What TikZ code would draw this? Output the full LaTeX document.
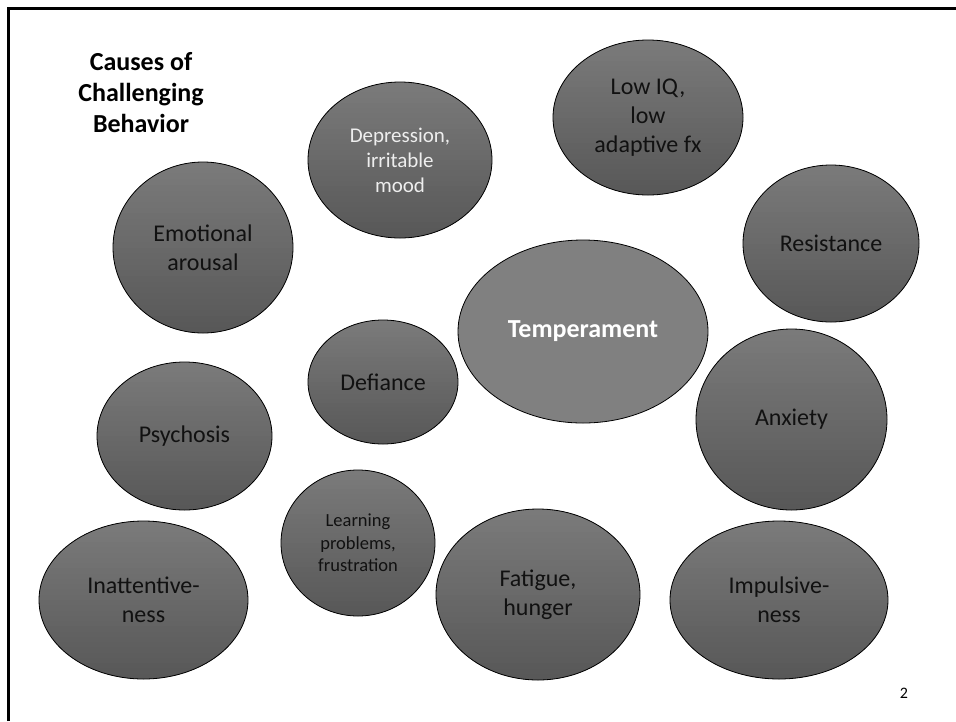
\documentclass[tikz,border=0pt]{standalone}
\usepackage{fontspec}
\setmainfont{Carlito}
\usetikzlibrary{shapes.geometric,calc}
\definecolor{shtop}{HTML}{7A7A7A}
\definecolor{shbot}{HTML}{585858}
\definecolor{flatgray}{HTML}{808080}
\definecolor{darktext}{HTML}{111111}
\definecolor{lighttext}{HTML}{EEEEEE}
\begin{document}
\begin{tikzpicture}[x=1pt,y=-1pt,
  bubblebase/.style={ellipse, draw=black, line width=0.8pt, inner sep=0pt, align=center},
  bubble/.style={bubblebase, fill=shtop, text=darktext, font=\fontsize{24}{29}\selectfont,
    path picture={
      \foreach \i [evaluate=\i as \p using 100*\i/29] in {0,...,29}{
        \fill[shbot!\p!shtop]
          ($(path picture bounding box.north west)!{\i/30}!(path picture bounding box.south west)$)
          rectangle
          ($(path picture bounding box.north east)!{(\i+1.2)/30}!(path picture bounding box.south east)$);
      }
    }},
]
\useasboundingbox (0,0) rectangle (956,721);
\fill[white] (0,0) rectangle (956,721);
\draw[line width=3pt] (8,721) -- (8,8) -- (956,8);

\node[font=\bfseries\fontsize{26}{31}\selectfont, align=center, inner sep=0pt] (title) at (141,93) {Causes of\\Challenging\\Behavior};

\node[bubble, minimum width=184pt, minimum height=156pt, text=lighttext, font=\fontsize{21}{25}\selectfont] (depr) at (400,160) {Depression,\\irritable\\mood};
\node[bubble, minimum width=190pt, minimum height=155pt] (lowiq) at (648,117.5) {Low IQ,\\low\\adaptive fx};
\node[bubble, minimum width=176pt, minimum height=157pt] (resist) at (831,243.5) {Resistance};
\node[bubble, minimum width=180pt, minimum height=171pt] (emot) at (203,247.5) {Emotional\\arousal};
\node[bubblebase, fill=flatgray, text=white, font=\bfseries\fontsize{26}{31}\selectfont, minimum width=250pt, minimum height=183pt] (temper) at (583,331.5) {Temperament};
\node[bubble, minimum width=150pt, minimum height=124pt] (defi) at (383,382) {Defiance};
\node[bubble, minimum width=191pt, minimum height=181pt] (anx) at (791.5,419.5) {Anxiety};
\node[bubble, minimum width=175pt, minimum height=148pt] (psych) at (184.5,436) {Psychosis};
\node[bubble, minimum width=154pt, minimum height=146pt, font=\fontsize{18.5}{22.5}\selectfont] (learn) at (358,543) {Learning\\problems,\\frustration};
\node[bubble, minimum width=209pt, minimum height=158pt] (inatt) at (143.5,600) {Inattentive-\\ness};
\node[bubble, minimum width=204pt, minimum height=171pt] (fatig) at (538,594.5) {Fatigue,\\hunger};
\node[bubble, minimum width=218pt, minimum height=158pt] (impul) at (779,600) {Impulsive-\\ness};

\node[font=\fontsize{16}{19}\selectfont, inner sep=0pt] (pnum) at (904,693) {2};
\end{tikzpicture}
\end{document}
